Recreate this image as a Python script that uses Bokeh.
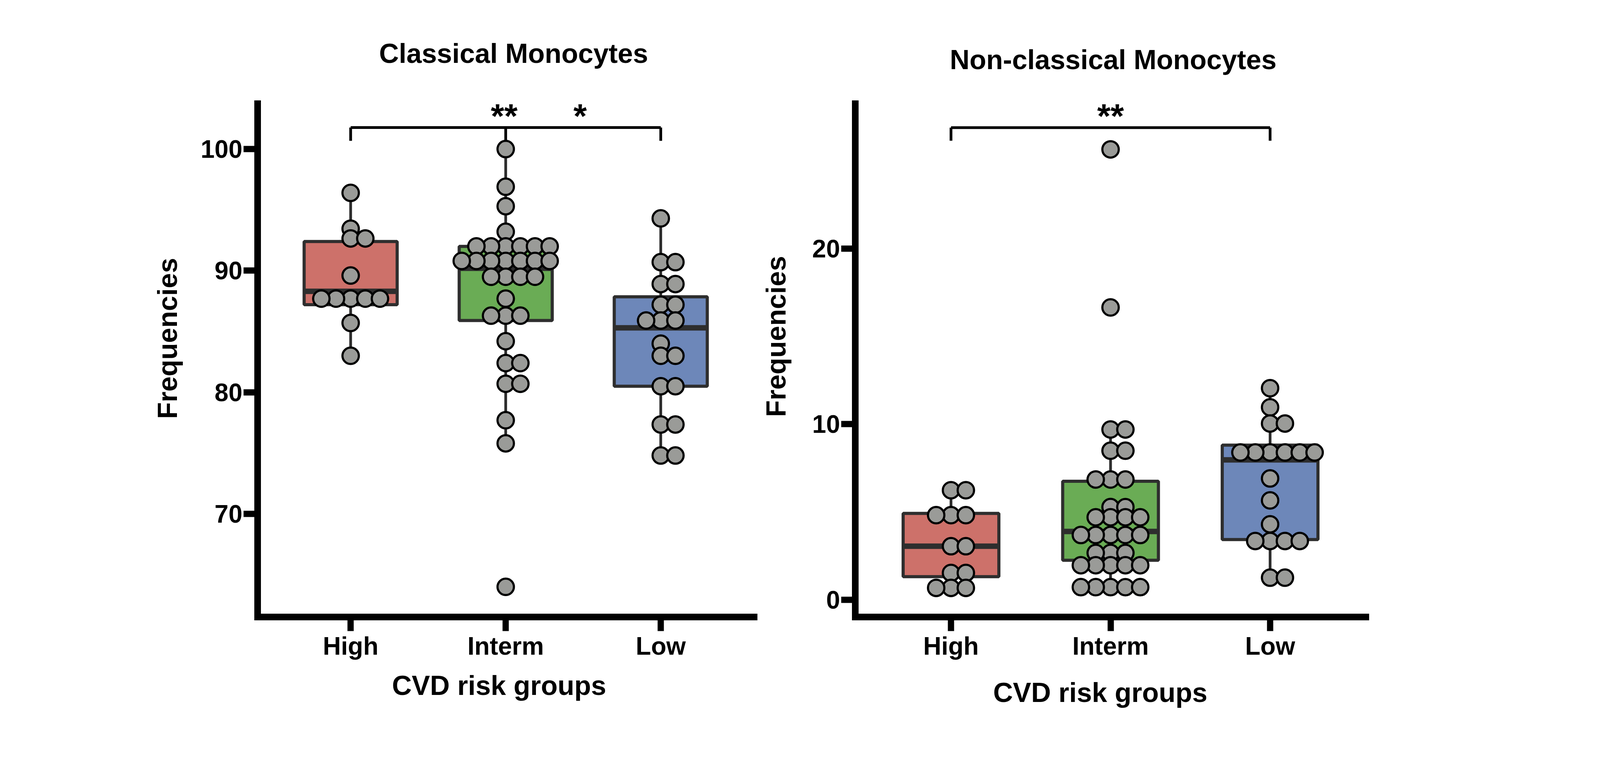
from bokeh.plotting import figure
from bokeh.layouts import row
from bokeh.models import FixedTicker, Range1d, ColumnDataSource, Title
from bokeh.core.properties import value
from bokeh.embed import file_html
from bokeh.resources import INLINE

# ---------------- data ----------------
categories = ["High", "Interm", "Low"]
cat_x = [1, 2, 3]
box_colors = ["#CD716A", "#6AAC55", "#6D87B9"]

# Classical monocytes (left panel)
cl_high = [96.4, 93.45, 92.65, 92.65, 89.6, 87.7, 87.7, 87.7, 87.7, 87.7, 85.7, 83.0]
cl_interm = [100.0, 96.9, 95.3, 93.2,
             92.0, 92.0, 92.0, 92.0, 92.0, 92.0,
             90.8, 90.8, 90.8, 90.8, 90.8, 90.8, 90.8,
             89.5, 89.5, 89.5, 89.5, 87.7, 86.3, 86.3, 86.3,
             84.2, 82.4, 82.4, 80.7, 80.7, 77.7, 75.8, 64.0]
cl_low = [94.3, 90.7, 90.7, 88.9, 88.9, 87.2, 87.2, 85.9, 85.9, 85.9,
          84.0, 83.0, 83.0, 80.5, 80.5, 77.35, 77.35, 74.8, 74.8]
cl_q1 = [87.2, 85.9, 80.5]
cl_med = [88.3, 90.2, 85.3]
cl_q3 = [92.4, 92.0, 87.85]
cl_wlo = [83.0, 75.8, 74.8]
cl_whi = [96.4, 100.0, 94.3]
cl_yticks = [70, 80, 90, 100]
cl_sig_y = 101.77
cl_sig_tick = 100.68
cl_stars = ["**", "*"]
cl_stars_x = [1.99, 2.48]

# Non-classical monocytes (right panel)
nc_high = [6.24, 6.24, 4.82, 4.82, 4.82, 3.05, 3.05, 1.53, 1.53, 0.68, 0.68, 0.68]
nc_interm = [25.65, 16.65, 9.70, 9.70, 8.49, 8.49, 6.85, 6.85, 6.85,
             5.28, 5.28, 4.70, 4.70, 4.70, 4.70,
             3.69, 3.69, 3.69, 3.69, 3.69, 2.67, 2.67, 2.67,
             1.97, 1.97, 1.97, 1.97, 1.97, 0.72, 0.72, 0.72, 0.72, 0.72]
nc_low = [12.05, 10.96, 10.04, 10.04, 8.39, 8.39, 8.39, 8.39, 8.39, 8.39,
          6.91, 5.66, 4.30, 3.35, 3.35, 3.35, 3.35, 1.26, 1.26]
nc_q1 = [1.32, 2.25, 3.43]
nc_med = [3.05, 3.89, 7.97]
nc_q3 = [4.92, 6.75, 8.81]
nc_wlo = [0.68, 0.72, 1.26]
nc_whi = [6.24, 9.70, 12.05]
nc_yticks = [0, 10, 20]
nc_sig_y = 26.89
nc_sig_tick = 26.14
nc_stars = ["**"]
nc_stars_x = [2.0]

FONT = "Liberation Sans"
BOX_LINE = "#2E2E2E"
FRAME_H = 1314


def swarm_offsets(vals, step):
    counts = {}
    offs = []
    for v in vals:
        k = counts.get(v, 0)
        counts[v] = k + 1
        m = ((k + 1) // 2) * (1 if k % 2 == 1 else -1)
        offs.append(m * step)
    return offs


def styled_title(text, offset, standoff):
    return Title(text=text, align="left", offset=offset, standoff=standoff,
                 text_font=FONT, text_font_size="70px", text_font_style="bold",
                 text_color="black")


def make_panel(title, groups, q1, med, q3, wlo, whi, yticks, yr, xr,
               sig_y, sig_tick, tick_xs, stars, stars_x, step,
               frame_w, mb_left, mb_right, mb_top, mb_bottom, title_off, title_standoff,
               ylab_off, ylab_standoff, xlab_off, xlab_standoff, margin=None):
    kw = {}
    if margin is not None:
        kw["margin"] = margin
    p = figure(frame_width=frame_w, frame_height=FRAME_H,
               min_border_left=mb_left, min_border_right=mb_right,
               min_border_top=mb_top, min_border_bottom=mb_bottom,
               x_range=Range1d(*xr), y_range=Range1d(*yr),
               output_backend="svg", toolbar_location=None, **kw)
    p.outline_line_color = None
    p.grid.visible = False
    p.background_fill_color = "white"
    p.border_fill_color = None

    p.add_layout(styled_title(title, title_off, title_standoff), "above")
    p.add_layout(styled_title("Frequencies", ylab_off, ylab_standoff), "left")
    p.add_layout(styled_title("CVD risk groups", xlab_off, xlab_standoff), "below")

    for ax in (p.xaxis[0], p.yaxis[0]):
        ax.axis_line_width = 17
        ax.axis_line_cap = "square"
        ax.axis_line_color = "black"
        ax.major_tick_line_width = 16
        ax.major_tick_line_color = "black"
        ax.major_tick_out = 36
        ax.major_tick_in = 0
        ax.minor_tick_line_color = None
        ax.major_label_text_font = FONT
        ax.major_label_text_font_size = "64px"
        ax.major_label_text_font_style = "bold"
        ax.major_label_text_color = "black"

    p.xaxis.ticker = FixedTicker(ticks=cat_x)
    p.xaxis.major_label_overrides = {x: c for x, c in zip(cat_x, categories)}
    p.xaxis.major_label_standoff = 2
    p.yaxis.ticker = FixedTicker(ticks=yticks)
    p.yaxis.major_label_standoff = 3

    # boxes
    src = ColumnDataSource(dict(x=cat_x, q1=q1, q3=q3, med=med, lo=wlo, hi=whi,
                                color=box_colors,
                                xl=[x - 0.3 for x in cat_x], xr=[x + 0.3 for x in cat_x]))
    p.segment(x0="x", y0="q3", x1="x", y1="hi", source=src, line_color=BOX_LINE, line_width=7)
    p.segment(x0="x", y0="q1", x1="x", y1="lo", source=src, line_color=BOX_LINE, line_width=7)
    p.vbar(x="x", width=0.6, top="q3", bottom="q1", source=src, fill_color="color",
           line_color=BOX_LINE, line_width=8)
    p.segment(x0="xl", y0="med", x1="xr", y1="med", source=src, line_color=BOX_LINE, line_width=14)

    # significance bracket
    p.segment(x0=[cat_x[0]], y0=[sig_y], x1=[cat_x[-1]], y1=[sig_y], line_color="black", line_width=7)
    p.segment(x0=tick_xs, y0=[sig_y] * len(tick_xs), x1=tick_xs, y1=[sig_tick] * len(tick_xs),
              line_color="black", line_width=7)
    p.text(x=stars_x, y=[sig_y] * len(stars), text=stars, text_font=value(FONT),
           text_font_size="88px", text_font_style="bold", text_color="black",
           text_align="center", text_baseline="alphabetic", y_offset=-30)

    # points
    xs, ys = [], []
    for cx, vals in zip(cat_x, groups):
        offs = swarm_offsets(vals, step)
        xs += [cx + o for o in offs]
        ys += vals
    p.scatter(x=xs, y=ys, size=42, fill_color="#9A9B98", line_color="black", line_width=5.5)
    return p


p1 = make_panel("Classical Monocytes", [cl_high, cl_interm, cl_low],
                cl_q1, cl_med, cl_q3, cl_wlo, cl_whi, cl_yticks,
                (61.52, 103.73), (0.40, 3.602), cl_sig_y, cl_sig_tick, [1, 2, 3],
                cl_stars, cl_stars_x, 0.0945,
                1271, 659, 20, 258, 340, 311, 180,
                507, 86, 344, 43)
p2 = make_panel("Non-classical Monocytes", [nc_high, nc_interm, nc_low],
                nc_q1, nc_med, nc_q3, nc_wlo, nc_whi, nc_yticks,
                (-0.979, 28.25), (0.40, 3.60), nc_sig_y, nc_sig_tick, [1, 3],
                nc_stars, nc_stars_x, 0.093,
                1307, 319, 580, 265, 333, 242, 147,
                512, 102, 353, 78, margin=(0, 0, 0, -80))

layout = row(p1, p2)
open("out.html", "w").write(file_html(layout, INLINE))
